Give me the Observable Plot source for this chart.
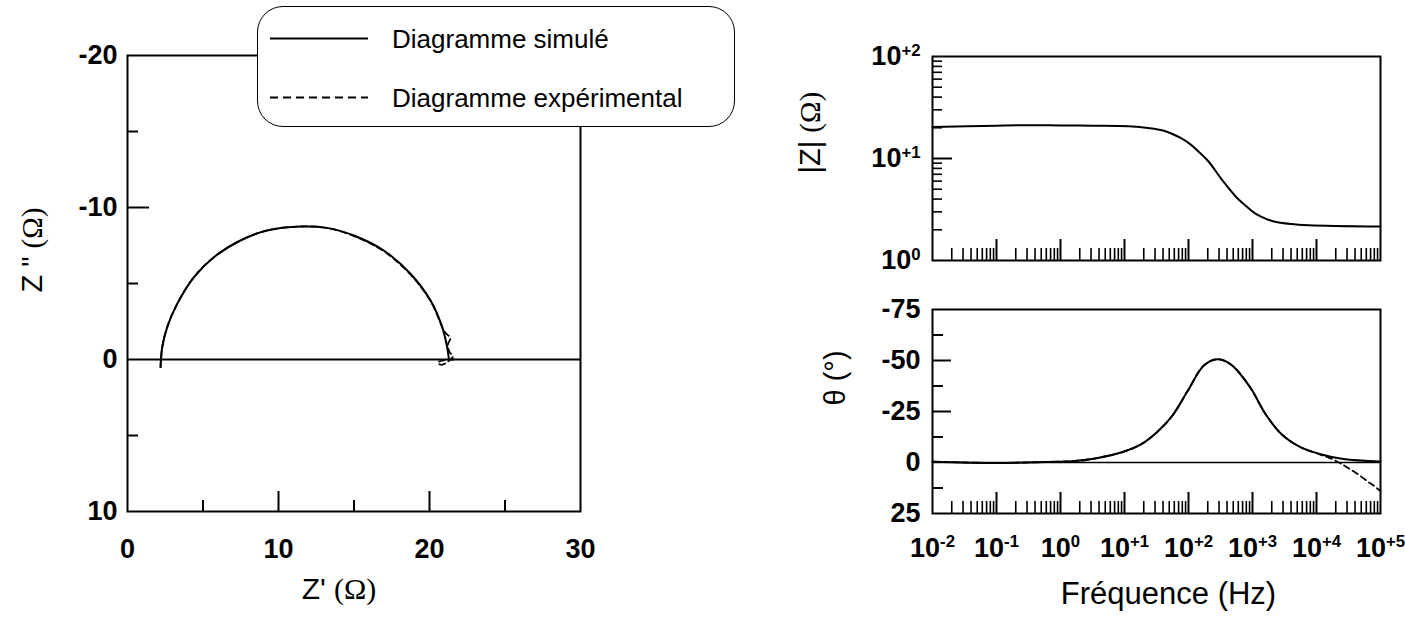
<!DOCTYPE html>
<html><head><meta charset="utf-8">
<script src="https://cdn.jsdelivr.net/npm/d3@7"></script>
<script src="https://cdn.jsdelivr.net/npm/@observablehq/plot@0.6"></script>
<style>
body{margin:0;background:#fff;}
#root{position:relative;width:1405px;height:620px;overflow:hidden;font-family:"Liberation Sans",Arial,Helvetica,sans-serif;background:#fff;}
.panel{position:absolute;}
#legend{position:absolute;left:257px;top:6px;width:478px;height:121px;box-sizing:border-box;border:1.5px solid #000;border-radius:26px;background:#fff;}
#legend .lt{position:absolute;left:134px;font-size:26px;line-height:30px;color:#000;white-space:nowrap;}
</style></head><body><div id="root"></div>
<script>
// ---------------- data ----------------
// Nyquist diagram: Z' (Ω) and Z'' (Ω)
const nyqSimRe = [2.19, 2.30, 2.63, 3.29, 4.39, 5.72, 7.48, 9.25, 11.46, 13.20, 14.99, 16.97, 18.74, 20.07, 20.84, 21.17, 21.28];
const nyqSimIm = [0.50, -0.81, -2.13, -3.66, -5.41, -6.73, -7.83, -8.49, -8.75, -8.66, -8.16, -7.17, -5.64, -3.88, -2.13, -0.81, -0.05];
const nyqExpRe = [2.19, 2.30, 2.63, 3.29, 4.39, 5.72, 7.48, 9.25, 11.46, 13.20, 15.00, 17.00, 18.78, 20.10, 20.65, 20.98, 21.38, 21.22, 21.32, 21.55, 21.20, 20.80, 20.55, 20.90, 21.60];
const nyqExpIm = [0.50, -0.81, -2.13, -3.66, -5.41, -6.73, -7.83, -8.49, -8.75, -8.66, -8.12, -7.10, -5.55, -3.80, -2.60, -1.85, -1.40, -1.00, -0.50, -0.20, 0.15, 0.35, 0.20, 0.05, 0.00];
// Bode modulus |Z| (Ω) vs frequency (Hz)
const modFreq = [0.01, 0.1, 0.25, 1, 3.2, 11.7, 25, 40, 55, 74, 105, 141, 204, 339, 575, 800, 1096, 1500, 2089, 4000, 7586, 100000];
const modSim  = [20.4, 21.0, 21.2, 21.1, 21.0, 20.7, 19.8, 18.8, 17.5, 16.0, 13.9, 11.8, 9.4, 6.1, 4.1, 3.4, 2.9, 2.62, 2.43, 2.28, 2.22, 2.15];
// Bode phase θ (°) vs frequency (Hz)
const phaseSimFreq = [0.01, 0.1, 1, 1.5, 3.5, 9.1, 18.6, 32, 56, 98, 174, 282, 457, 912, 1585, 2818, 5623, 11220, 26300, 100000];
const phaseSim     = [-0.4, 0.2, -0.4, -0.6, -2.0, -5.0, -9.1, -14.8, -23.0, -35.3, -47.6, -50.6, -48.1, -37.0, -23.9, -14.0, -7.5, -4.2, -1.7, -0.5];
const phaseExpFreq = [0.01, 0.1, 1, 1.5, 3.5, 9.1, 18.6, 32, 56, 98, 174, 282, 457, 912, 1585, 2818, 5623, 11220, 15850, 22390, 31620, 44670, 63100, 79430, 100000];
const phaseExp     = [-0.4, 0.2, -0.4, -0.6, -2.0, -5.0, -9.1, -14.8, -23.0, -35.3, -47.6, -50.6, -48.1, -37.0, -23.9, -14.0, -7.5, -4.0, -2.3, 0.0, 2.8, 5.8, 9.3, 11.5, 14.0];
// ticks & labels
const nyqXTicks = [0, 10, 20, 30];
const nyqXMajor = [10, 20];
const nyqXMinor = [5, 15, 25];
const nyqYTicks = [-20, -10, 0, 10];
const nyqYMajor = [-10];
const nyqYMinor = [-15, -5, 5];
const freqTicks = [0.01, 0.1, 1, 10, 100, 1000, 10000, 100000];
const freqTickLabels = ["10^-2", "10^-1", "10^0", "10^+1", "10^+2", "10^+3", "10^+4", "10^+5"];
const modTicks = [1, 10, 100];
const modTickLabels = ["10^0", "10^+1", "10^+2"];
const phaseTicks = [-75, -50, -25, 0, 25];
const phaseMajor = [-50, -25];
const phaseMinor = [-62.5, -37.5, -12.5, 12.5];
const legendLabels = ["Diagramme simulé", "Diagramme expérimental"];
const titles = {nx: "Z' (Ω)", ny: 'Z " (Ω)', mod: "|Z| (Ω)", phase: "θ (°)", freq: "Fréquence (Hz)"};

// ---------------- helpers ----------------
const FONT = '"Liberation Sans", Arial, Helvetica, sans-serif';
const root = document.getElementById("root");
const NS = "http://www.w3.org/2000/svg";
function place(el, left, top, w, h) {
  const d = document.createElement("div");
  d.className = "panel";
  Object.assign(d.style, {left: left + "px", top: top + "px", width: w + "px", height: h + "px"});
  d.appendChild(el); root.appendChild(d);
}
function richText(svg) {
  svg.querySelectorAll("text").forEach(t => {
    if (t.querySelector("tspan")) return;
    const s = t.textContent;
    const m = s.match(/^(.*?)\^(.+)$/);
    if (m) {
      t.textContent = m[1];
      const sp = document.createElementNS(NS, "tspan");
      sp.setAttribute("dy", "-0.55em"); sp.setAttribute("font-size", "0.62em");
      sp.textContent = m[2]; t.appendChild(sp);
      return;
    }
    const i = s.indexOf("(Ω)");
    if (i >= 0) {
      t.textContent = s.slice(0, i);
      const sp = document.createElementNS(NS, "tspan");
      sp.setAttribute("font-family", '"Liberation Serif", "Times New Roman", serif');
      sp.textContent = "(Ω)"; t.appendChild(sp);
      if (s.slice(i + 3)) t.appendChild(document.createTextNode(s.slice(i + 3)));
    }
  });
  return svg;
}
function logMinors(e0, e1) {
  const out = [];
  for (let e = e0; e < e1; e++) for (let k = 2; k <= 9; k++) out.push(k * Math.pow(10, e));
  return out;
}
const lab = (ticks, labels) => d => labels[ticks.indexOf(d)];
const line = {stroke: "#000", strokeWidth: 2, curve: "catmull-rom"};
const dashed = {stroke: "#000", strokeWidth: 1.8, strokeDasharray: "6,4", curve: "catmull-rom"};
const tickFont = {fontSize: 27, fontWeight: "bold", tickSize: 0, label: null};

// ---------------- Nyquist ----------------
const nyqSim = nyqSimRe.map((x, i) => ({x, y: nyqSimIm[i]}));
const nyqExp = nyqExpRe.map((x, i) => ({x, y: nyqExpIm[i]}));
{
  const W = 760, H = 620, ml = 127, mt = 55, mr = 180, mb = 109;
  const fw = W - ml - mr, fh = H - mt - mb;
  const svg = Plot.plot({
    width: W, height: H, marginLeft: ml, marginTop: mt, marginRight: mr, marginBottom: mb,
    style: {fontFamily: FONT, background: "transparent", overflow: "visible", color: "#000"},
    x: {domain: [0, 30], axis: null},
    y: {domain: [10, -20], axis: null},
    marks: [
      Plot.ruleY([0], {stroke: "#000", strokeWidth: 2}),
      Plot.line(nyqExp, {x: "x", y: "y", ...dashed}),
      Plot.line(nyqSim, {x: "x", y: "y", ...line}),
      Plot.tickX(nyqXMajor, {x: d => d, insetTop: fh - 20, strokeWidth: 2}),
      Plot.tickX(nyqXMinor, {x: d => d, insetTop: fh - 11, strokeWidth: 2}),
      Plot.tickY(nyqYMajor, {y: d => d, insetRight: fw - 22, strokeWidth: 2}),
      Plot.tickY(nyqYMinor, {y: d => d, insetRight: fw - 11, strokeWidth: 2}),
      Plot.frame({stroke: "#000", strokeWidth: 2}),
      Plot.axisX(nyqXTicks, {...tickFont, tickPadding: 27, tickFormat: d => String(d)}),
      Plot.axisY(nyqYTicks, {...tickFont, tickPadding: 10, tickFormat: d => String(d)}),
      Plot.text([titles.nx], {text: d => d, frameAnchor: "bottom", dy: 87, dx: -15, fontSize: 30}),
      Plot.text([titles.ny], {text: d => d, frameAnchor: "left", dx: -95, dy: 9, rotate: -90, fontSize: 29})
    ]
  });
  place(richText(svg), 0, 0, W, H);
}

// ---------------- Bode |Z| ----------------
const modData = modFreq.map((f, i) => ({f, z: modSim[i]}));
{
  const W = 625, H = 300, ml = 152, mt = 56, mr = 25, mb = 40;
  const fw = W - ml - mr, fh = H - mt - mb;
  const svg = Plot.plot({
    width: W, height: H, marginLeft: ml, marginTop: mt, marginRight: mr, marginBottom: mb,
    style: {fontFamily: FONT, background: "transparent", overflow: "visible", color: "#000"},
    x: {type: "log", domain: [0.01, 100000], axis: null},
    y: {type: "log", domain: [1, 100], axis: null},
    marks: [
      Plot.line(modData, {x: "f", y: "z", ...line}),
      Plot.tickX(freqTicks.slice(1, -1), {x: d => d, insetTop: fh - 21, strokeWidth: 2}),
      Plot.tickX(logMinors(-2, 5), {x: d => d, insetTop: fh - 12, strokeWidth: 1.6}),
      Plot.tickY([10], {y: d => d, insetRight: fw - 20, strokeWidth: 2}),
      Plot.tickY(logMinors(0, 2), {y: d => d, insetRight: fw - 10, strokeWidth: 1.6}),
      Plot.frame({stroke: "#000", strokeWidth: 2}),
      Plot.axisY(modTicks, {...tickFont, tickPadding: 12, tickFormat: lab(modTicks, modTickLabels)}),
      Plot.text([titles.mod], {text: d => d, frameAnchor: "left", dx: -122, dy: 15, rotate: -90, fontSize: 29})
    ]
  });
  place(richText(svg), 780, 0, W, H);
}

// ---------------- Bode θ ----------------
const phSim = phaseSimFreq.map((f, i) => ({f, t: phaseSim[i]}));
const phExp = phaseExpFreq.map((f, i) => ({f, t: phaseExp[i]}));
{
  const W = 625, H = 330, ml = 152, mt = 19, mr = 25, mb = 107;
  const fw = W - ml - mr, fh = H - mt - mb;
  const svg = Plot.plot({
    width: W, height: H, marginLeft: ml, marginTop: mt, marginRight: mr, marginBottom: mb,
    style: {fontFamily: FONT, background: "transparent", overflow: "visible", color: "#000"},
    x: {type: "log", domain: [0.01, 100000], axis: null},
    y: {domain: [25, -75], axis: null},
    marks: [
      Plot.ruleY([0], {stroke: "#000", strokeWidth: 1.6}),
      Plot.line(phExp, {x: "f", y: "t", ...dashed}),
      Plot.line(phSim, {x: "f", y: "t", ...line}),
      Plot.tickX(freqTicks.slice(1, -1), {x: d => d, insetTop: fh - 21, strokeWidth: 2}),
      Plot.tickX(logMinors(-2, 5), {x: d => d, insetTop: fh - 12, strokeWidth: 1.6}),
      Plot.tickY(phaseMajor, {y: d => d, insetRight: fw - 19, strokeWidth: 2}),
      Plot.tickY(phaseMinor, {y: d => d, insetRight: fw - 11, strokeWidth: 2}),
      Plot.frame({stroke: "#000", strokeWidth: 2}),
      Plot.axisX(freqTicks, {...tickFont, tickPadding: 24, tickFormat: lab(freqTicks, freqTickLabels)}),
      Plot.axisY(phaseTicks, {...tickFont, tickPadding: 12, tickFormat: d => String(d)}),
      Plot.text([titles.freq], {text: d => d, frameAnchor: "bottom", dy: 90, dx: 12, fontSize: 31}),
      Plot.text([titles.phase], {text: d => d, frameAnchor: "left", dx: -97, dy: -6, rotate: -90, fontSize: 29})
    ]
  });
  place(richText(svg), 780, 290, W, H);
}

// ---------------- legend ----------------
{
  const lg = document.createElement("div");
  lg.id = "legend";
  const s = document.createElementNS(NS, "svg");
  s.setAttribute("width", "130"); s.setAttribute("height", "118");
  s.style.position = "absolute"; s.style.left = "0"; s.style.top = "0";
  [[31.5, null], [90.5, "8,5"]].forEach(([y, dash]) => {
    const l = document.createElementNS(NS, "line");
    l.setAttribute("x1", 12); l.setAttribute("x2", 110); l.setAttribute("y1", y); l.setAttribute("y2", y);
    l.setAttribute("stroke", "#000"); l.setAttribute("stroke-width", dash ? 1.8 : 2);
    if (dash) l.setAttribute("stroke-dasharray", dash);
    s.appendChild(l);
  });
  lg.appendChild(s);
  legendLabels.forEach((t, i) => {
    const d = document.createElement("div");
    d.className = "lt"; d.textContent = t;
    d.style.top = (i === 0 ? 16.5 : 75.5) + "px";
    lg.appendChild(d);
  });
  root.appendChild(lg);
}
</script></body></html>
